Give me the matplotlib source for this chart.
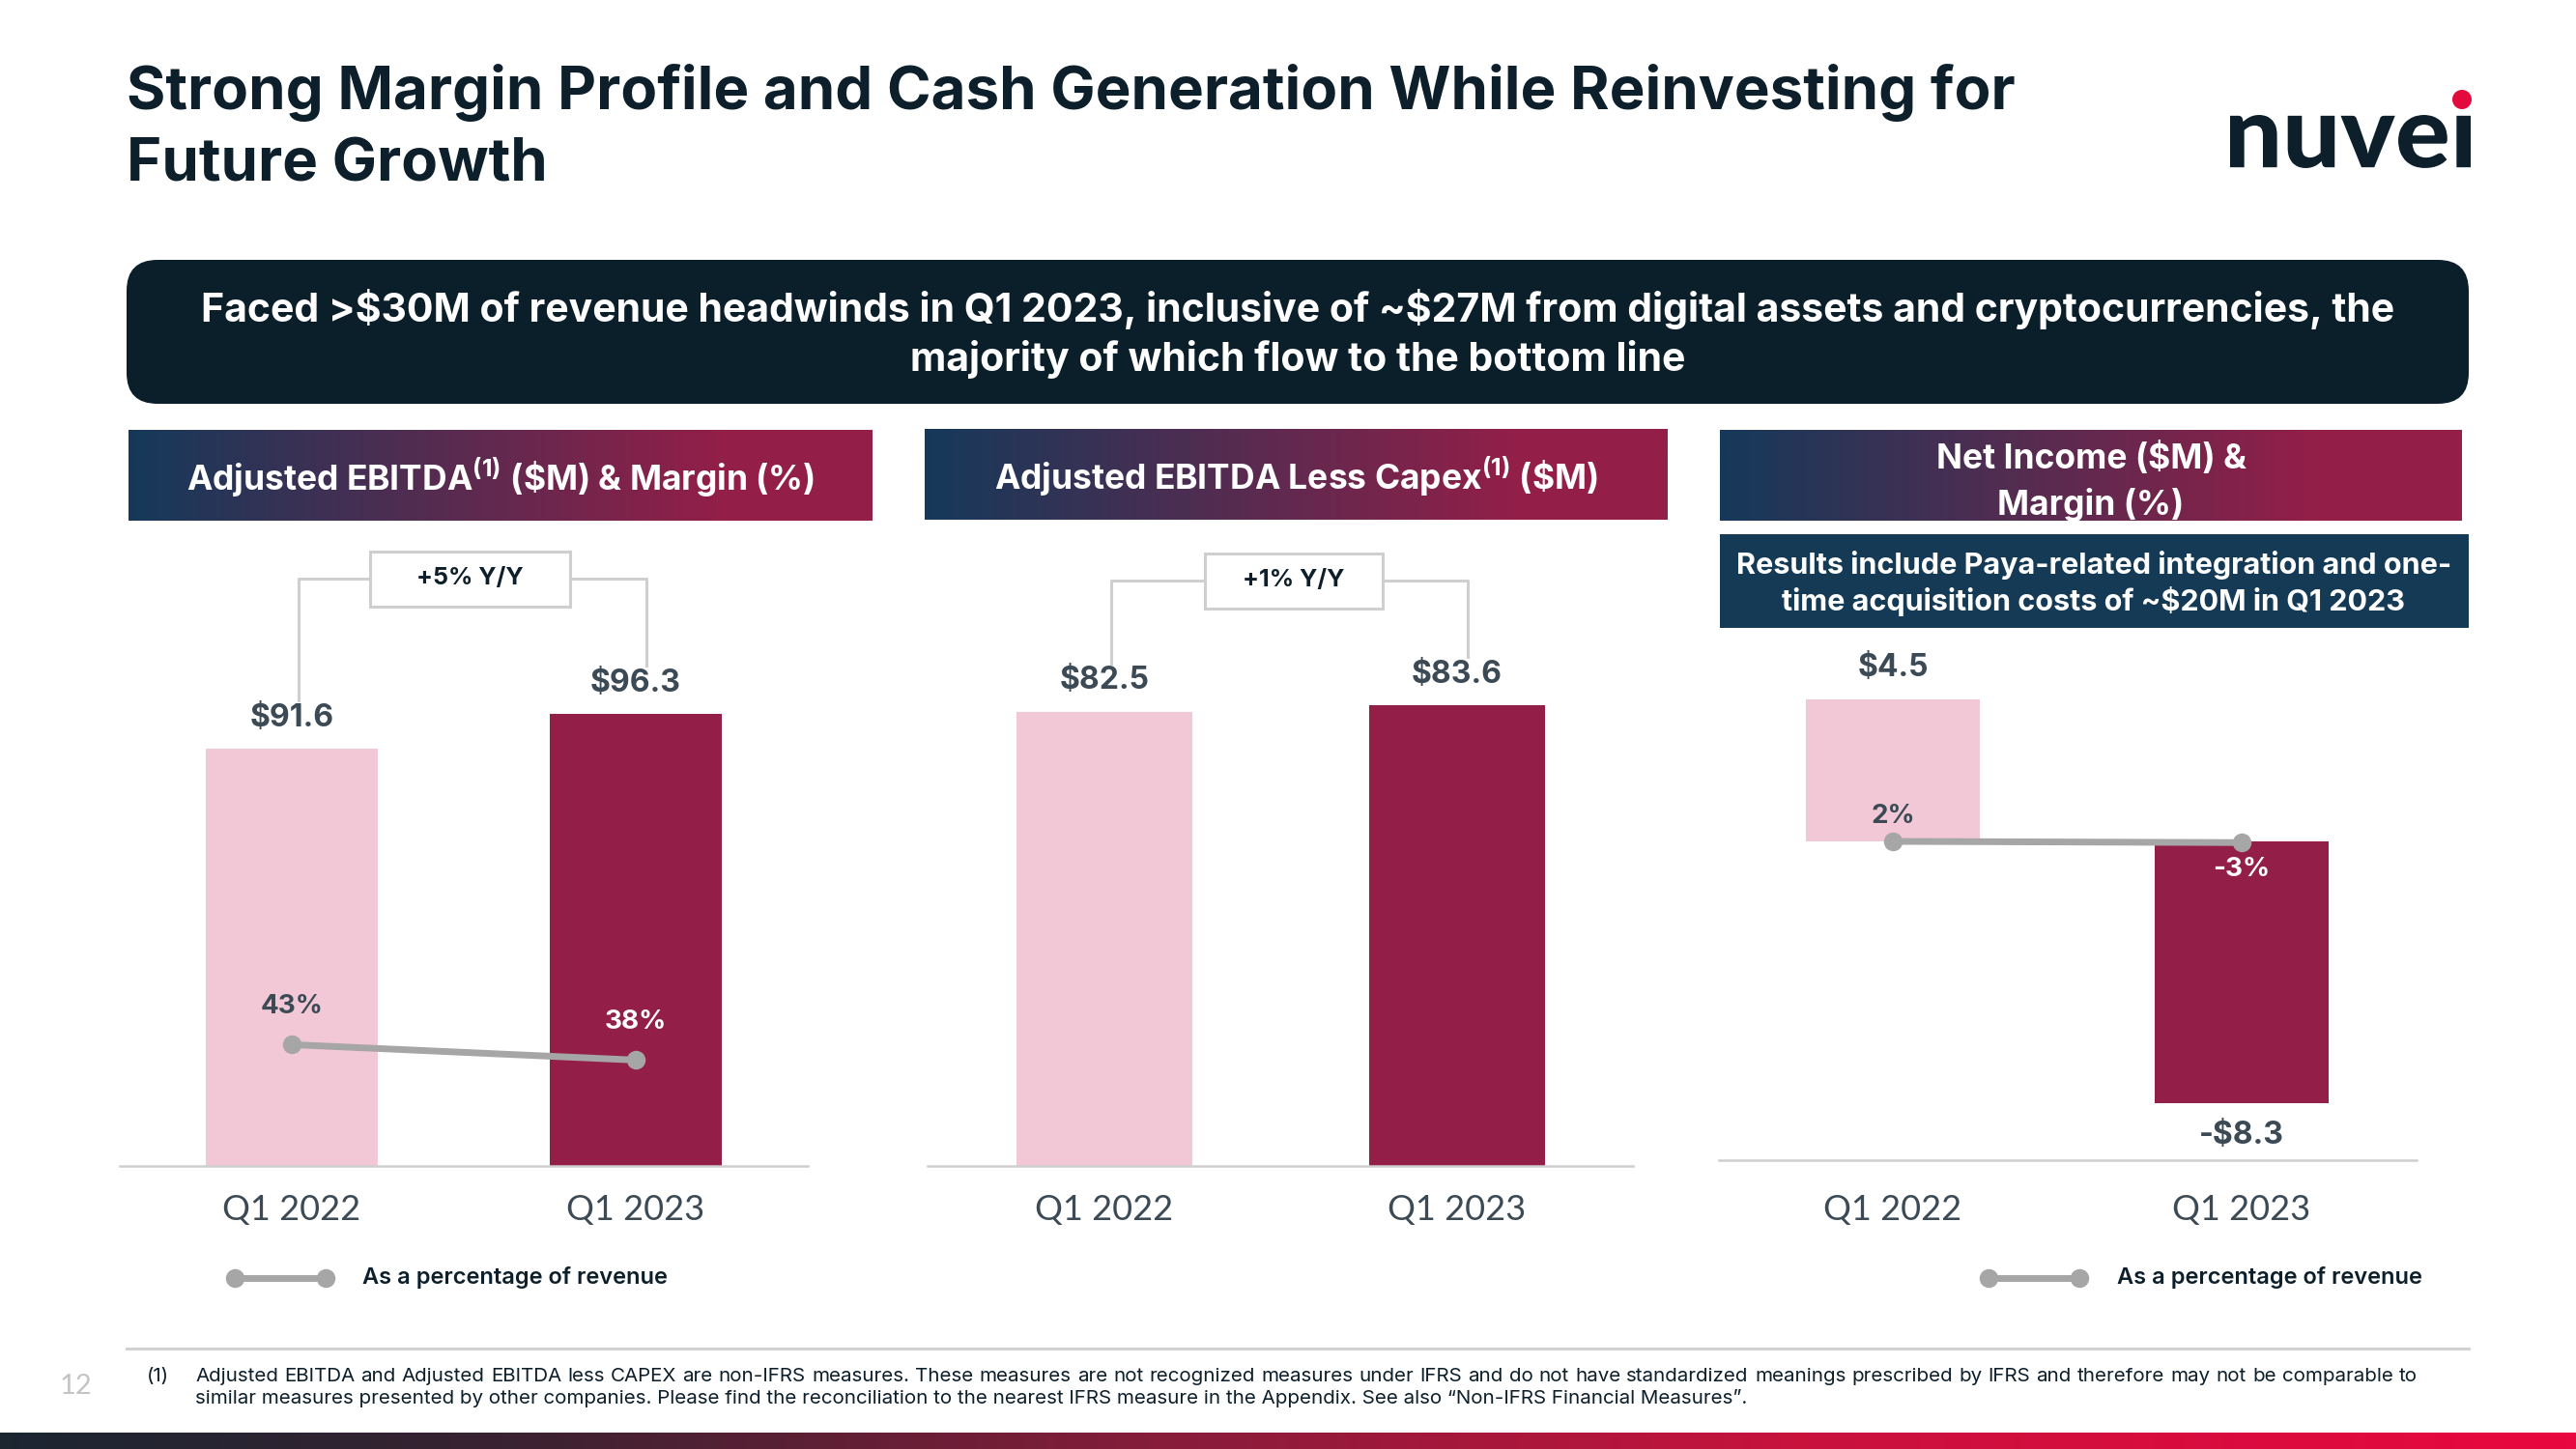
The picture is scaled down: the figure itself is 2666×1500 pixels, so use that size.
import numpy as np
import matplotlib
matplotlib.use("Agg")
import matplotlib.pyplot as plt
from matplotlib.patches import FancyBboxPatch, Rectangle, Circle, PathPatch
from matplotlib.colors import LinearSegmentedColormap
from matplotlib.textpath import TextPath
from matplotlib.font_manager import FontProperties
from matplotlib.transforms import Affine2D

W, H = 2666, 1500

plt.rcParams["font.family"] = ["Inter", "DejaVu Sans"]
plt.rcParams["mathtext.fontset"] = "custom"
plt.rcParams["mathtext.rm"] = "Inter:bold"
plt.rcParams["mathtext.it"] = "Inter:bold"
plt.rcParams["mathtext.bf"] = "Inter:bold"

# ── data ─────────────────────────────────────────────────────────
quarters = ["Q1 2022", "Q1 2023"]
adj_ebitda = [91.6, 96.3]
adj_ebitda_margin = [43, 38]
ebitda_less_capex = [82.5, 83.6]
net_income = [4.5, -8.3]
net_income_margin = [2, -3]
ebitda_growth = "+5% Y/Y"
capex_growth = "+1% Y/Y"

title_lines = ["Strong Margin Profile and Cash Generation While Reinvesting for",
               "Future Growth"]
banner_lines = ["Faced >$30M of revenue headwinds in Q1 2023, inclusive of ~$27M from digital assets and cryptocurrencies, the",
                "majority of which flow to the bottom line"]
header_1 = r"Adjusted EBITDA$^{(1)}$ (\$M) & Margin (%)"
header_2 = r"Adjusted EBITDA Less Capex$^{(1)}$ (\$M)"
header_3 = ["Net Income ($M) &", "Margin (%)"]
note_3 = ["Results include Paya-related integration and one-",
          "time acquisition costs of ~$20M in Q1 2023"]
legend_label = "As a percentage of revenue"
footnote = ["Adjusted EBITDA and Adjusted EBITDA less CAPEX are non-IFRS measures. These measures are not recognized measures "
            "under IFRS and do not have standardized meanings prescribed by IFRS and therefore may not be comparable to",
            "similar measures presented by other companies. Please find the reconciliation to the nearest IFRS measure in the "
            "Appendix. See also \u201cNon-IFRS Financial Measures\u201d."]
page_number = "12"

# ── colours ──────────────────────────────────────────────────────
NAVY = "#0c1f2b"
SLATE = "#3b4a55"
PINK = "#f3c8d6"
CRIMSON = "#931f49"
GREY_LINE = "#a6a6a6"
GRID = "#cfcfcf"
NOTE_BLUE = "#153a56"
header_cmap = LinearSegmentedColormap.from_list(
    "hdr", [(0, "#15395a"), (0.4, "#542c51"), (0.8, "#931f48"), (1, "#941f48")])
footer_cmap = LinearSegmentedColormap.from_list(
    "ftr", [(0, "#1b2631"), (0.2, "#3a2231"), (0.45, "#861c3a"), (0.7, "#c8123d"), (1, "#e8073f")])

fig = plt.figure(figsize=(W / 100, H / 100), dpi=100)
fig.patch.set_facecolor("white")
bg = fig.add_axes([0, 0, 1, 1], zorder=0)
bg.axis("off")

grad = np.linspace(0, 1, 512).reshape(1, -1)


def gradient_box(x0, x1, y0, y1, cmap):
    bg.imshow(grad, cmap=cmap, extent=(x0, x1, y1, y0), aspect="auto", zorder=1)


# ── title + logo ─────────────────────────────────────────────────
bg.text(131, 113, title_lines[0], fontsize=44.5, fontweight="bold", color=NAVY, va="baseline")
bg.text(131, 187, title_lines[1], fontsize=44.5, fontweight="bold", color=NAVY, va="baseline")

logo = TextPath((0, 0), "nuve\u0131", size=100, prop=FontProperties(family="Lato", weight="black"))
ext = logo.get_extents()
sx = (2557 - 2308) / ext.width
sy = (174 - 119) / ext.height
logo_tr = Affine2D().translate(-ext.x0, -ext.y0).scale(sx, -sy).translate(2308, 174)
bg.add_patch(PathPatch(logo_tr.transform_path(logo), facecolor=NAVY, edgecolor="none", zorder=2))
bg.add_patch(Circle((2548, 103), 10, facecolor="#e30b3e", edgecolor="none", zorder=2))

# ── dark banner ──────────────────────────────────────────────────
bg.add_patch(FancyBboxPatch((131, 269), 2424, 149, boxstyle="round,pad=0,rounding_size=32",
                            facecolor="#0b1f2b", edgecolor="none", zorder=1))
bg.text(1343, 333, banner_lines[0], ha="center", va="baseline", fontsize=29.5,
        fontweight="bold", color="white", parse_math=False, zorder=2)
bg.text(1343, 384, banner_lines[1], ha="center", va="baseline", fontsize=29.5,
        fontweight="bold", color="white", parse_math=False, zorder=2)

# ── panel headers ────────────────────────────────────────────────
gradient_box(133, 903, 445, 539, header_cmap)
gradient_box(957, 1726, 444, 538, header_cmap)
gradient_box(1780, 2548, 445, 539, header_cmap)
bg.text(518, 494, header_1, ha="center", va="center", fontsize=25.5, fontweight="bold", color="white", zorder=2)
bg.text(1341, 493, header_2, ha="center", va="center", fontsize=25.5, fontweight="bold", color="white", zorder=2)
bg.text(2164, 485, header_3[0], ha="center", va="baseline", fontsize=25.5, fontweight="bold",
        color="white", parse_math=False, zorder=2)
bg.text(2164, 533, header_3[1], ha="center", va="baseline", fontsize=25.5, fontweight="bold",
        color="white", zorder=2)
bg.add_patch(Rectangle((1780, 553), 775, 97, facecolor=NOTE_BLUE, edgecolor="none", zorder=1))
bg.text(2167, 594, note_3[0], ha="center", va="baseline", fontsize=22, fontweight="bold",
        color="white", zorder=2)
bg.text(2167, 632, note_3[1], ha="center", va="baseline", fontsize=22, fontweight="bold",
        color="white", parse_math=False, zorder=2)


# ── chart panels ─────────────────────────────────────────────────
# y_zero is the pixel row of value 0 (may sit below the axis, like the
# original deck whose first axis does not start at zero); ppu = px per unit
def panel(x_left, x_right, y_top, y_bot, y_zero, ppu):
    ax = fig.add_axes([x_left / W, 1 - y_bot / H, (x_right - x_left) / W, (y_bot - y_top) / H], zorder=2)
    ax.set_facecolor("none")
    ax.set_xlim(-0.5, 1.5)
    ax.set_ylim((y_zero - y_bot) / ppu, (y_zero - y_top) / ppu)
    for s in ("left", "right", "top"):
        ax.spines[s].set_visible(False)
    ax.spines["bottom"].set_color(GRID)
    ax.spines["bottom"].set_linewidth(1.8)
    ax.set_yticks([])
    ax.set_xticks(range(len(quarters)))
    ax.set_xticklabels(quarters, fontsize=26, fontweight="normal", color=SLATE,
                       fontfamily=["Lato", "DejaVu Sans"])
    ax.tick_params(axis="x", length=0, pad=(1236 - y_bot) * 0.72)
    return ax


def twin(ax, y_top, y_bot, y_zero, ppu):
    a2 = ax.twinx()
    a2.set_zorder(3)
    a2.set_ylim((y_zero - y_bot) / ppu, (y_zero - y_top) / ppu)
    a2.axis("off")
    return a2


def bars(ax, values):
    ax.bar(range(len(values)), values, width=0.5, color=[PINK, CRIMSON], zorder=2)
    for i, v in enumerate(values):
        txt = f"${v:.1f}" if v >= 0 else f"-${abs(v):.1f}"
        ax.annotate(txt, (i, v), xytext=(0, 32 if v >= 0 else -33), textcoords="offset pixels",
                    ha="center", va="center", fontsize=23, fontweight="bold", color=SLATE)


def margin_line(a2, margins, offsets):
    a2.plot(range(len(margins)), margins, color=GREY_LINE, lw=5, marker="o", ms=13,
            solid_capstyle="round", zorder=4)
    for i, (m, off) in enumerate(zip(margins, offsets)):
        a2.annotate(f"{m}%", (i, m), xytext=(0, off), textcoords="offset pixels",
                    ha="center", va="center", fontsize=20, fontweight="bold",
                    color=SLATE if i == 0 else "white", zorder=5)


def bracket(ax, values, y_zero, ppu, spacing, label, line_px, box_cx, box_w, box_h):
    yl = (y_zero - line_px) / ppu
    ends = [v + 50 / ppu for v in values]
    ax.plot([0.02, 0.02, 1.03, 1.03], [ends[0], yl, yl, ends[1]], color=GRID, lw=2.2,
            clip_on=False, zorder=3)
    ax.add_patch(Rectangle((box_cx - box_w / spacing / 2, yl - box_h / ppu / 2),
                           box_w / spacing, box_h / ppu, facecolor="white", edgecolor=GRID,
                           lw=2.2, clip_on=False, zorder=4))
    ax.text(box_cx, yl, label, ha="center", va="center", fontsize=18, fontweight="bold",
            color=NAVY, zorder=5)


# panel 1: adjusted EBITDA & margin
P1_ZERO, P1_PPU = 1477, 7.66
ax1 = panel(124, 836, 560, 1207, P1_ZERO, P1_PPU)
bars(ax1, adj_ebitda)
bracket(ax1, adj_ebitda, P1_ZERO, P1_PPU, 356, ebitda_growth, 599, 0.517, 207, 57)
ax1b = twin(ax1, 560, 1207, 1219, 3.2)
margin_line(ax1b, adj_ebitda_margin, [39, 39])

# panel 2: adjusted EBITDA less capex
ax2 = panel(960.5, 1690.5, 560, 1207, 1207, 5.7)
bars(ax2, ebitda_less_capex)
bracket(ax2, ebitda_less_capex, 1207, 5.7, 365, capex_growth, 601, 0.537, 184, 57)

# panel 3: net income & margin
ax3 = panel(1778.5, 2500.5, 660, 1201, 871, 32.7)
bars(ax3, net_income)
ax3b = twin(ax3, 660, 1201, 871.5, 0.25)
margin_line(ax3b, net_income_margin, [26, -28])


# ── legends ──────────────────────────────────────────────────────
def legend_item(x0, x1, tx, y):
    bg.plot([x0, x1], [y, y], color=GREY_LINE, lw=5, marker="o", ms=13, solid_capstyle="round", zorder=2)
    bg.text(tx, y, legend_label, va="center", fontsize=17, fontweight="semibold", color=NAVY, zorder=2)


legend_item(243, 337, 375, 1323)
legend_item(2058, 2152, 2191, 1323)

# ── footnote ─────────────────────────────────────────────────────
bg.plot([131, 2555], [1396, 1396], color="#d2d2d2", lw=2.2, zorder=1)
bg.text(62, 1443, page_number, fontsize=21, color="#c4c4c4", va="baseline",
        fontfamily=["Lato", "DejaVu Sans"])
bg.text(152, 1430, "(1)", fontsize=14.8, color=NAVY, va="baseline")

# first footnote line is justified between the text margins
renderer = fig.canvas.get_renderer()
words = footnote[0].split()
word_art = [bg.text(0, 1430, w, fontsize=14.8, color=NAVY, va="baseline") for w in words]
widths = [a.get_window_extent(renderer).width for a in word_art]
gap = (2502 - 202 - sum(widths)) / (len(words) - 1)
xpos = 202
for a, wd in zip(word_art, widths):
    a.set_x(xpos)
    xpos += wd + gap
bg.text(202, 1453, footnote[1], fontsize=14.8, color=NAVY, va="baseline")

gradient_box(0, W, 1483, 1500, footer_cmap)

bg.set_xlim(0, W)
bg.set_ylim(H, 0)

fig.savefig("out.png", dpi=100, facecolor="white")
